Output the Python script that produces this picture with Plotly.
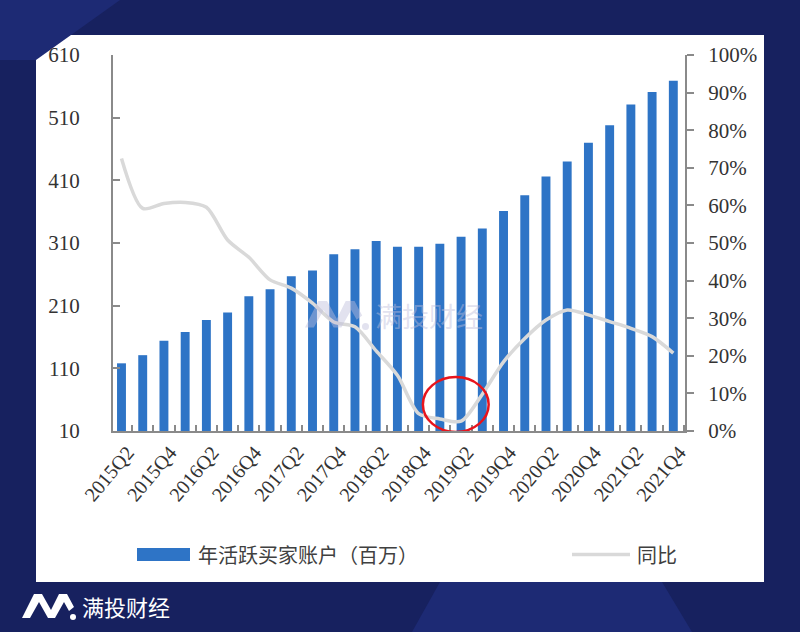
import plotly.graph_objects as go

quarters = ["2015Q2","2015Q3","2015Q4","2016Q1","2016Q2","2016Q3","2016Q4","2017Q1","2017Q2",
            "2017Q3","2017Q4","2018Q1","2018Q2","2018Q3","2018Q4","2019Q1","2019Q2","2019Q3",
            "2019Q4","2020Q1","2020Q2","2020Q3","2020Q4","2021Q1","2021Q2","2021Q3","2021Q4"]
buyers = [118, 131, 154, 168, 187, 199, 225, 236, 257, 266, 292, 300, 313, 304, 304, 309, 320,
          333, 361, 386, 416, 440, 470, 498, 531, 551, 569]
yoy = [72.5, 59.2, 60.5, 60.8, 59.5, 50.8, 46.2, 40.2, 38.0, 34.0, 29.0, 27.7, 21.3, 14.8, 4.6,
       3.2, 2.6, 9.8, 18.4, 24.6, 29.5, 32.2, 30.9, 29.1, 27.3, 25.1, 20.7]
yoy_frac = [v / 100 for v in yoy]
left_ticks = [10, 110, 210, 310, 410, 510, 610]
right_ticks = [i / 10 for i in range(11)]
bar_name = "年活跃买家账户（百万）"
line_name = "同比"
brand = "满投财经"

W, H = 800, 632
L, R, T, B = 113, 685, 55, 431


def px(x):
    return (x - L) / (R - L)


def py(y):
    return (B - y) / (B - T)


xs = list(range(len(quarters)))

fig = go.Figure()
fig.add_trace(go.Bar(x=xs, y=buyers, name=bar_name, marker_color="#2e74c6",
                     marker_line_width=0, yaxis="y", showlegend=False))
fig.add_trace(go.Scatter(x=xs, y=yoy_frac, name=line_name, mode="lines",
                         line=dict(color="#d9d9d9", width=3.5, shape="spline", smoothing=0.8),
                         yaxis="y2", showlegend=False))

shapes = []
# white card
shapes.append(dict(type="rect", xref="paper", yref="paper", x0=px(36), x1=px(764),
                   y0=py(582), y1=py(35), fillcolor="white", line_width=0, layer="below"))
# lighter navy shapes in background
shapes.append(dict(type="path", xref="paper", yref="paper",
                   path=f"M {px(412)} {py(632)} L {px(440)} {py(582)} L {px(662)} {py(582)} L {px(692)} {py(632)} Z",
                   fillcolor="#1d2a74", line_width=0, layer="below"))
shapes.append(dict(type="path", xref="paper", yref="paper",
                   path=f"M {px(0)} {py(0)} L {px(120)} {py(0)} L {px(36)} {py(60)} L {px(0)} {py(60)} Z",
                   fillcolor="#1d2a74", line_width=0, layer="below"))


def m_logo(x0, y0, s):
    pts = [(0, 25), (12, 1), (20, 1), (29, 17), (37, 1), (45, 1), (52, 14), (47, 18),
           (42, 9), (33, 25), (26, 25), (17, 9), (8, 25)]
    p = " L ".join(f"{px(x0 + a * s)} {py(y0 + b * s)}" for a, b in pts)
    return "M " + p + " Z"


# footer logo
shapes.append(dict(type="path", xref="paper", yref="paper", path=m_logo(22, 593, 1.0),
                   fillcolor="white", line_width=0, layer="above"))
shapes.append(dict(type="circle", xref="paper", yref="paper", x0=px(70), x1=px(76),
                   y0=py(620), y1=py(614), fillcolor="white", line_width=0))
# watermark logo
shapes.append(dict(type="path", xref="paper", yref="paper", path=m_logo(305, 300, 1.1),
                   fillcolor="rgba(190,190,220,0.45)", line_width=0, layer="above"))
shapes.append(dict(type="circle", xref="paper", yref="paper", x0=px(362), x1=px(369),
                   y0=py(330), y1=py(323), fillcolor="rgba(190,190,220,0.45)", line_width=0))
# red ellipse highlight
shapes.append(dict(type="circle", xref="x", yref="y", x0=14.2, x1=17.3, y0=8.5, y1=96,
                   line=dict(color="#e8141c", width=2.5), fillcolor="rgba(0,0,0,0)"))
# legend symbols
shapes.append(dict(type="rect", xref="paper", yref="paper", x0=px(137), x1=px(190),
                   y0=py(561), y1=py(548), fillcolor="#2e74c6", line_width=0))
shapes.append(dict(type="line", xref="paper", yref="paper", x0=px(572), x1=px(630),
                   y0=py(554.5), y1=py(554.5), line=dict(color="#d9d9d9", width=3.5)))

annotations = [
    dict(text=bar_name, xref="paper", yref="paper", x=px(196), y=py(554), xanchor="left",
         yanchor="middle", showarrow=False,
         font=dict(family="Noto Sans CJK SC", size=20, color="#404040")),
    dict(text=line_name, xref="paper", yref="paper", x=px(635), y=py(554), xanchor="left",
         yanchor="middle", showarrow=False,
         font=dict(family="Noto Sans CJK SC", size=20, color="#404040")),
    dict(text=brand, xref="paper", yref="paper", x=px(80), y=py(606), xanchor="left",
         yanchor="middle", showarrow=False,
         font=dict(family="Noto Sans CJK SC", size=22, color="white")),
    dict(text=brand, xref="paper", yref="paper", x=px(373), y=py(315), xanchor="left",
         yanchor="middle", showarrow=False,
         font=dict(family="Noto Sans CJK SC", size=27, color="rgba(190,190,220,0.45)")),
]

serif = "Liberation Serif"
fig.update_layout(
    width=W, height=H,
    margin=dict(l=L, r=W - R, t=T, b=H - B, pad=0),
    paper_bgcolor="#17215f", plot_bgcolor="white",
    bargap=0.58, showlegend=False,
    shapes=shapes, annotations=annotations,
    xaxis=dict(range=[-0.4, 26.55], tickmode="array", tickvals=xs[::2], ticktext=quarters[::2],
               tickangle=-50, ticks="", showgrid=False, zeroline=False,
               showline=True, linecolor="#8a8a8a", linewidth=2, ticklabelshift=6,
               tickfont=dict(family=serif, size=20, color="#333333"),
               minor=dict(ticks="inside", tick0=0.5, dtick=1, ticklen=6, tickcolor="#8a8a8a",
                          tickwidth=1.5, showgrid=False)),
    yaxis=dict(range=[10, 610], tickmode="array", tickvals=left_ticks, ticks="inside",
               ticklen=7, tickcolor="#8a8a8a", tickwidth=1.5, showgrid=False, zeroline=False,
               showline=True, linecolor="#8a8a8a", linewidth=2, ticklabelstandoff=27,
               tickfont=dict(family=serif, size=21, color="#333333")),
    yaxis2=dict(range=[0, 1], tickmode="array", tickvals=right_ticks, tickformat=".0%",
                overlaying="y", side="right", ticks="outside", ticklen=7, tickcolor="#8a8a8a",
                tickwidth=1.5, showgrid=False, zeroline=False, showline=True,
                linecolor="#8a8a8a", linewidth=2, ticklabelstandoff=10,
                tickfont=dict(family=serif, size=21, color="#333333")),
)

fig.write_html("out.html", config={"displayModeBar": False},
               post_script=["document.body.style.margin='0';document.body.style.overflow='hidden';"])
